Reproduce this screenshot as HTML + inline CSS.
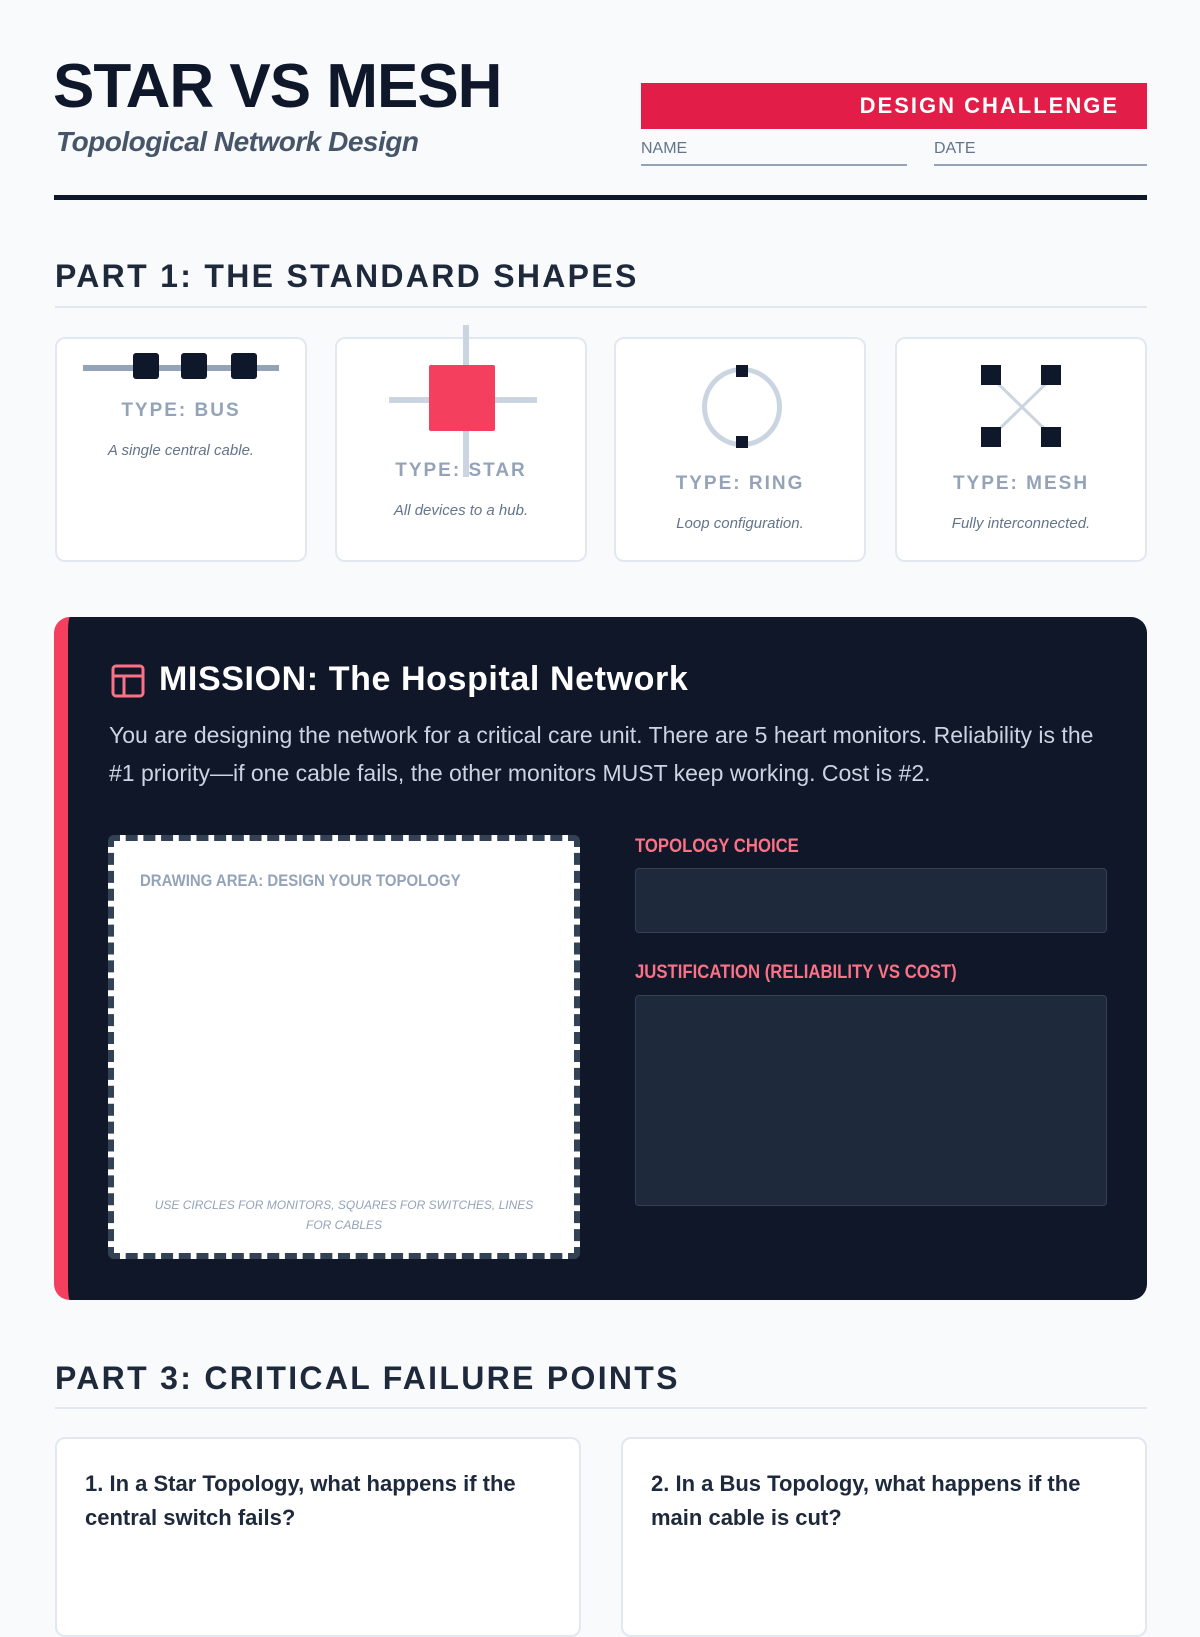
<!DOCTYPE html>
<html><head><meta charset="utf-8"><style>
*{margin:0;padding:0;box-sizing:border-box}
body{width:1200px;height:1600px;background:#f8fafc;font-family:"Liberation Sans",sans-serif;position:relative;overflow:hidden;color:#0f172a}
.a{position:absolute}
.h1{left:53px;top:52px;font-size:62px;font-weight:bold;letter-spacing:-1px;color:#0f172a;line-height:70px}
.sub{left:56px;top:126px;font-size:28px;font-style:italic;font-weight:bold;color:#475569;letter-spacing:-0.5px}
.red{left:641px;top:83px;width:506px;height:46px;background:#e11d48;color:#fff;font-weight:bold;font-size:22px;letter-spacing:2px;text-align:right;padding-right:28px;line-height:46px}
.lbl{font-size:16px;color:#64748b;border-bottom:2px solid #94a3b8;padding-bottom:6px;top:140px}
.h2{font-size:32px;font-weight:bold;letter-spacing:2.3px;color:#1e293b;left:55px}
.rule{left:55px;width:1092px;height:2px;background:#e2e8f0}
.card{background:#fff;border:2px solid #e2e8f0;border-radius:10px;top:337px;width:252px;height:225px}
.t{position:absolute;width:100%;text-align:center;font-weight:bold;font-size:19px;letter-spacing:2px;color:#94a3b8}
.d{position:absolute;width:100%;text-align:center;font-style:italic;font-size:15px;color:#64748b}
.sq{position:absolute;background:#0f172a;border-radius:3px}
.panel{left:54px;top:617px;width:1093px;height:683px;background:#0f1729;border-radius:16px;border-left:14px solid #f43f5e}
.fl{font-size:19px;font-weight:bold;color:#fb7185;transform:scaleX(.88);transform-origin:left}
.inp{background:#1e293b;border:1px solid #334155;border-radius:4px}
.q{background:#fff;border:2px solid #e2e8f0;border-radius:10px;top:1437px;width:526px;height:200px;padding:28px;font-size:22px;font-weight:bold;color:#1e293b;line-height:34px}
</style></head><body>
<div class="a h1">STAR VS MESH</div>
<div class="a sub">Topological Network Design</div>
<div class="a red">DESIGN CHALLENGE</div>
<div class="a lbl" style="left:641px;width:266px">NAME</div>
<div class="a lbl" style="left:934px;width:213px">DATE</div>
<div class="a" style="left:54px;top:195px;width:1093px;height:5px;background:#0f172a"></div>

<div class="a h2" style="top:258px">PART 1: THE STANDARD SHAPES</div>
<div class="a rule" style="top:306px"></div>

<div class="a card" style="left:55px">
 <div class="a" style="left:26px;top:26px;width:196px;height:6px;background:#94a3b8"></div>
 <div class="sq" style="left:76px;top:14px;width:26px;height:26px"></div>
 <div class="sq" style="left:124px;top:14px;width:26px;height:26px"></div>
 <div class="sq" style="left:174px;top:14px;width:26px;height:26px"></div>
 <div class="t" style="top:61px">TYPE: BUS</div>
 <div class="d" style="top:103px">A single central cable.</div>
</div>
<div class="a card" style="left:335px">
 <div class="a" style="left:126px;top:-14px;width:6px;height:150px;background:#cbd5e1"></div>
 <div class="a" style="left:52px;top:58px;width:148px;height:6px;background:#cbd5e1"></div>
 <div class="a" style="left:92px;top:26px;width:66px;height:66px;background:#f43f5e;border-radius:2px"></div>
 <div class="a" style="left:126px;top:92px;width:6px;height:46px;background:#cbd5e1"></div>
 <div class="t" style="top:121px">TYPE: STAR</div>
 <div class="d" style="top:163px">All devices to a hub.</div>
</div>
<div class="a card" style="left:614px">
 <div class="a" style="left:86px;top:28px;width:80px;height:80px;border:5px solid #cbd5e1;border-radius:50%"></div>
 <div class="sq" style="left:120px;top:26px;width:12px;height:12px;border-radius:0"></div>
 <div class="sq" style="left:120px;top:97px;width:12px;height:12px;border-radius:0"></div>
 <div class="t" style="top:134px">TYPE: RING</div>
 <div class="d" style="top:176px">Loop configuration.</div>
</div>
<div class="a card" style="left:895px">
 <svg class="a" style="left:80px;top:26px" width="90" height="84"><line x1="10" y1="8" x2="80" y2="76" stroke="#cbd5e1" stroke-width="3"/><line x1="80" y1="8" x2="10" y2="76" stroke="#cbd5e1" stroke-width="3"/></svg>
 <div class="sq" style="left:84px;top:26px;width:20px;height:20px;border-radius:0"></div>
 <div class="sq" style="left:144px;top:26px;width:20px;height:20px;border-radius:0"></div>
 <div class="sq" style="left:84px;top:88px;width:20px;height:20px;border-radius:0"></div>
 <div class="sq" style="left:144px;top:88px;width:20px;height:20px;border-radius:0"></div>
 <div class="t" style="top:134px">TYPE: MESH</div>
 <div class="d" style="top:176px">Fully interconnected.</div>
</div>

<div class="a panel">
 <svg class="a" style="left:43px;top:47px" width="34" height="34"><rect x="2" y="2" width="30" height="30" rx="3" fill="none" stroke="#fb7185" stroke-width="3"/><line x1="2" y1="12" x2="32" y2="12" stroke="#fb7185" stroke-width="3"/><line x1="13" y1="12" x2="13" y2="32" stroke="#fb7185" stroke-width="3"/></svg>
 <div class="a" style="left:91px;top:43px;font-size:34px;font-weight:bold;color:#fff;letter-spacing:0.6px">MISSION: The Hospital Network</div>
 <div class="a" style="left:41px;top:99px;width:1000px;font-size:23px;line-height:38px;color:#cbd5e1">You are designing the network for a critical care unit. There are 5 heart monitors. Reliability is the<br>#1 priority—if one cable fails, the other monitors MUST keep working. Cost is #2.</div>
 <div class="a" style="left:40px;top:218px;width:472px;height:424px;background:#fff;border:6px dashed #334155;border-radius:6px">
  <div class="a" style="left:26px;top:30px;font-size:17px;font-weight:bold;color:#94a3b8;transform:scaleX(.88);transform-origin:left">DRAWING AREA: DESIGN YOUR TOPOLOGY</div>
  <div class="a" style="left:30px;top:354px;width:400px;text-align:center;font-size:12px;font-style:italic;color:#94a3b8;line-height:20px">USE CIRCLES FOR MONITORS, SQUARES FOR SWITCHES, LINES FOR CABLES</div>
 </div>
 <div class="a fl" style="left:567px;top:219px">TOPOLOGY CHOICE</div>
 <div class="a inp" style="left:567px;top:251px;width:472px;height:65px"></div>
 <div class="a fl" style="left:567px;top:345px">JUSTIFICATION (RELIABILITY VS COST)</div>
 <div class="a inp" style="left:567px;top:378px;width:472px;height:211px"></div>
</div>

<div class="a h2" style="top:1360px">PART 3: CRITICAL FAILURE POINTS</div>
<div class="a rule" style="top:1407px"></div>
<div class="a q" style="left:55px">1. In a Star Topology, what happens if the central switch fails?</div>
<div class="a q" style="left:621px">2. In a Bus Topology, what happens if the main cable is cut?</div>
</body></html>
